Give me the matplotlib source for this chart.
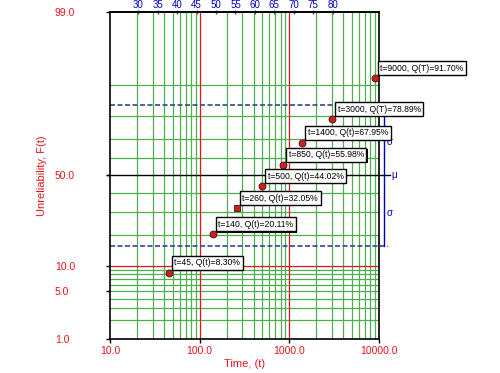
import numpy as np
import matplotlib
matplotlib.use("Agg")
import matplotlib.pyplot as plt
import matplotlib.patheffects as pe
from matplotlib.ticker import NullLocator
from statistics import NormalDist

# data
times = [45, 140, 260, 500, 850, 1400, 3000, 9000]
unrel = [8.30, 20.11, 32.05, 44.02, 55.98, 67.95, 78.89, 91.70]
qvar = ['t', 't', 't', 't', 't', 't', 'T', 'T']
markers = ['o', 'o', 's', 'o', 'o', 'o', 'o', 'o']

x_ticks = [10, 100, 1000, 10000]
x_ticklabels = ['10.0', '100.0', '1000.0', '10000.0']
y_ticks = [1, 5, 10, 50, 99]
y_ticklabels = ['1.0', '5.0', '10.0', '50.0', '99.0']
top_ticks = [30, 35, 40, 45, 50, 55, 60, 65, 70, 75, 80]

x_grid = [20, 30, 40, 50, 60, 70, 80, 90, 200, 300, 400, 500, 600, 700, 800, 900,
          2000, 3000, 4000, 5000, 6000, 7000, 8000, 9000]
y_grid = [2, 3, 4, 5, 6, 7, 8, 9, 20, 30, 40, 60, 70, 80, 90]

RED = '#e8141a'
GREEN = '#4cb04c'
BLUE = '#0000cc'
NAVY = '#2e4a8c'

nd = NormalDist()
_ppf = np.vectorize(nd.inv_cdf, otypes=[float])
_cdf = np.vectorize(nd.cdf, otypes=[float])


def prob_fwd(p):
    p = np.clip(np.asarray(p, dtype=float), 1e-9, 100 - 1e-9)
    return _ppf(p / 100.0)


def prob_inv(z):
    return 100.0 * _cdf(np.asarray(z, dtype=float))


# top scale is linear in log10(t)
def top_fwd(t):
    return 30 + 23.06 * (np.log10(np.maximum(t, 1e-9)) - 1.315)


def top_inv(v):
    return 10 ** (1.315 + (np.asarray(v, dtype=float) - 30) / 23.06)


plt.rcParams['font.family'] = ['Liberation Sans', 'DejaVu Sans']

fig = plt.figure(figsize=(5, 3.73), dpi=100)
ax = fig.add_axes([0.22, 0.0912, 0.538, 0.8766])
ax.set_xscale('log')
ax.set_yscale('function', functions=(prob_fwd, prob_inv))
ax.set_xlim(10, 10000)
ax.set_ylim(1, 99)

# grid
for g in x_grid:
    ax.axvline(g, color=GREEN, lw=0.9, zorder=1)
for g in y_grid:
    ax.axhline(g, color=GREEN, lw=0.9, zorder=1)
for g in [100, 1000]:
    ax.axvline(g, color=RED, lw=0.9, zorder=1.5)
ax.axhline(10, color=RED, lw=0.9, zorder=1.5)

# mean and sigma lines
sig_hi = 100 * nd.cdf(1.0)
sig_lo = 100 * nd.cdf(-1.0)
ytr = ax.get_yaxis_transform()
ax.plot([-0.012, 1.041], [50, 50], color='black', lw=1.0, transform=ytr,
        clip_on=False, zorder=2)
for s in [sig_hi, sig_lo]:
    ax.plot([0, 1.033], [s, s], color=NAVY, lw=1.2, ls=(0, (3, 1.5)),
            transform=ytr, clip_on=False, zorder=2)
ax.plot([1.019, 1.019], [sig_lo, sig_hi], color=BLUE, lw=1.0, transform=ytr,
        clip_on=False, zorder=2)
ax.text(1.047, 50, 'μ', color=BLUE, fontsize=7, transform=ytr, va='center', ha='left')
for zmid in [0.5, -0.5]:
    ax.annotate('σ', xy=(1.028, 100 * nd.cdf(zmid)), xycoords=ytr,
                xytext=(0, -1.5), textcoords='offset points', color=BLUE,
                fontsize=7, va='center', ha='left', annotation_clip=False, zorder=2)

# points and labels
for t, q, v, m in zip(times, unrel, qvar, markers):
    ax.plot(t, q, marker=m, ms=5 if m == 'o' else 4.5, color='#cc2020',
            mec='#401010', mew=0.6, zorder=4, clip_on=False)
    ann = ax.annotate(f"t={t}, Q({v})={q:.2f}%", xy=(t, q), xytext=(4, 4),
                      textcoords='offset points', ha='left', va='bottom',
                      fontsize=6.2, color='black', zorder=6, annotation_clip=False,
                      bbox=dict(boxstyle='square,pad=0.3', fc='white', ec='black', lw=1.0))
    ann.get_bbox_patch().set_path_effects(
        [pe.SimplePatchShadow(offset=(0.8, -0.8), shadow_rgbFace='black', alpha=1.0),
         pe.Normal()])

# axes styling
for sp in ax.spines.values():
    sp.set_color('black')
    sp.set_linewidth(1.2)
    sp.set_zorder(3)

ax.set_xticks(x_ticks, x_ticklabels)
ax.xaxis.set_minor_locator(NullLocator())
ax.set_yticks(y_ticks, y_ticklabels)
ax.yaxis.set_minor_locator(NullLocator())
ax.tick_params(axis='x', length=3, width=1, colors='black', labelcolor=RED,
               labelsize=7.5, pad=2)
ax.tick_params(axis='y', length=3, width=1, colors='black', labelcolor=RED,
               labelsize=7.5, pad=36.6)
for lbl in ax.get_yticklabels():
    lbl.set_horizontalalignment('left')
for tk, val in zip(ax.xaxis.get_major_ticks(), x_ticks):
    if val in (100, 1000):
        tk.tick1line.set_color(RED)
for tk, val in zip(ax.yaxis.get_major_ticks(), y_ticks):
    if val == 10:
        tk.tick1line.set_color(RED)

ax.set_xlabel('Time, (t)', color=RED, fontsize=8, labelpad=2)
ax.set_ylabel('Unreliability, F(t)', color=RED, fontsize=8, labelpad=5.5)

sec = ax.secondary_xaxis('top', functions=(top_fwd, top_inv))
sec.set_xticks(top_ticks, [str(v) for v in top_ticks])
sec.xaxis.set_minor_locator(NullLocator())
sec.tick_params(axis='x', direction='inout', length=3, width=1, colors=NAVY,
                labelcolor=BLUE, labelsize=7, pad=0)
sec.spines['top'].set_color('black')
sec.spines['top'].set_linewidth(1.2)

fig.savefig('out.png', dpi=100, facecolor='white')
